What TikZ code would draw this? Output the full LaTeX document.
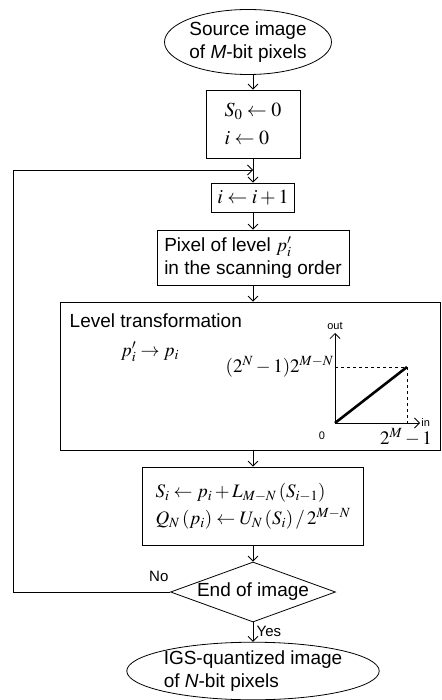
\documentclass[tikz,border=0pt]{standalone}
\usepackage{mathptmx}
\usepackage{fontspec}
\setmainfont{Liberation Sans}
\usetikzlibrary{arrows.meta,positioning,shapes.geometric}

\begin{document}
\begin{tikzpicture}[x=1pt,y=-1pt,line width=0.8pt,font=\fontsize{19}{23}\selectfont,
  >={Straight Barb[length=5pt,width=10pt]},
  box/.style={draw,rectangle,inner sep=0pt},
  term/.style={draw,ellipse,inner sep=0pt},
  decision/.style={draw,diamond,inner sep=0pt},
  small/.style={font=\fontsize{11}{13}\selectfont}]
\useasboundingbox (0,0) rectangle (441,700);
\node[term, minimum width=167, minimum height=65, align=center] (src) at (248,42) {Source image\\of \textit{M}-bit pixels};
\node[box, minimum width=94, minimum height=68, align=left, font=\fontsize{20}{24}\selectfont] (init) at (253,124) {$S_0\leftarrow 0$\\[4pt]$i\leftarrow 0$};
\node[box, minimum width=83, minimum height=29, font=\fontsize{20}{24}\selectfont] (inc) at (253,197.5) {$i\leftarrow i+1$};
\node[box, minimum width=192, minimum height=55, align=left] (pix) at (253,257.5) {Pixel of level $p'_i$\\in the scanning order};
\node[box, minimum width=380, minimum height=148] (lvl) at (250,376) {};
\node[box, minimum width=221, minimum height=78, align=left] (upd) at (253,506) {$S_i\leftarrow p_i+L_{M-N}\left(S_{i-1}\right)$\\[4pt]$Q_N\left(p_i\right)\leftarrow U_N\left(S_i\right)/\,2^{M-N}$};
\node[decision, minimum width=165, minimum height=60, label=center:End of image] (end) at (253,592) {};
\node[term, minimum width=248, minimum height=57, align=left] (out) at (253,671) {IGS-quantized image\\of \textit{N}-bit pixels};
\coordinate (merge) at (init.south |- 0,170);
\node[anchor=west] (lvltxt) at (66,321) {Level transformation};
\node (map) at (150,352) {$p'_i\to p_i$};
\coordinate (o) at (335,423);
\coordinate (top) at (407,367);
\draw[->] (o) -- (335,333) node[small,above] (outlbl) {out};
\draw[->] (o) -- (420,423) node[small,right,inner sep=1pt] (inlbl) {in};
\draw[line width=2.6pt] (o) -- (top);
\draw[dashed] (o |- top) -- (top) -- (top |- o);
\node[anchor=east,inner sep=1pt] (ymax) at (o |- top) {$(2^N-1)2^{M-N}$};
\node[small] (zero) at (322,436) {0};
\node (xmax) at (406,437) {$2^M-1$};
\draw[->] (init.north |- src.south) -- (init);
\draw[->] (init) -- (inc);
\draw[->] (inc) -- (pix);
\draw[->] (pix) -- (pix.south |- lvl.north);
\draw[->] (upd.north |- lvl.south) -- (upd);
\draw[->] (upd) -- (end);
\draw[->] (end) -- (out);
\draw[->] (end.west) -- ++(-157,0) |- (merge);
\node[font=\fontsize{15}{17}\selectfont, above left=7pt and -2pt of end.west] (no) {No};
\node[font=\fontsize{15}{17}\selectfont, below right=0pt and 0pt of end.south] (yes) {Yes};
\end{tikzpicture}
\end{document}
